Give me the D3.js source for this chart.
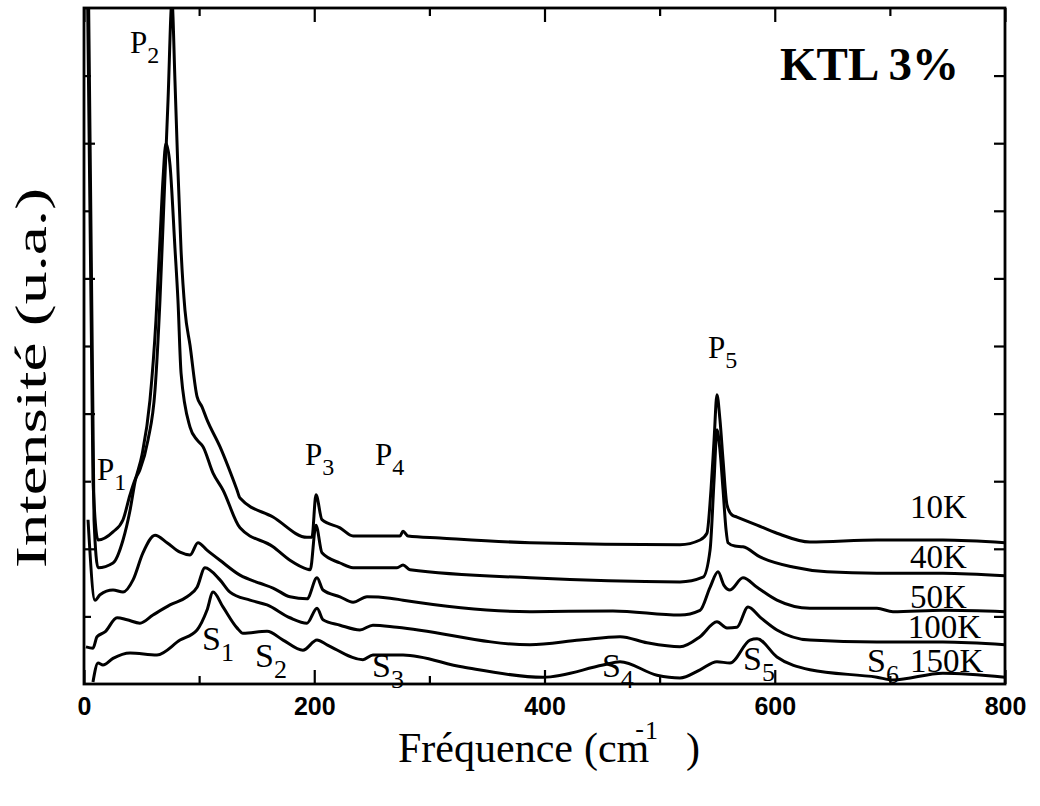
<!DOCTYPE html>
<html>
<head>
<meta charset="utf-8">
<script src="https://cdn.jsdelivr.net/npm/d3@7"></script>
<style>
  html, body { margin: 0; padding: 0; background: #fff; }
  svg { display: block; }
</style>
</head>
<body>
<svg id="chart" width="1040" height="806"></svg>
<script>
// ---------------- data (frequency cm-1, intensity a.u.) ----------------
const temps = ["10K", "40K", "50K", "100K", "150K"];

const spec10K = [[2.6,10.9],[7.8,3.02],[12.2,2.13],[25.2,2.25],[33.9,2.43],[40.0,2.80],[44.3,3.02],[48.6,3.17],[55.6,3.61],[61.7,4.35],[66.0,5.68],[69.5,7.16],[73.0,8.64],[76.4,10.1],[79.0,8.93],[81.6,7.60],[84.3,6.42],[87.7,5.53],[92.1,5.01],[98.2,4.25],[102.5,4.10],[106.8,3.91],[118.1,3.51],[132.9,2.87],[135.5,2.75],[164.2,2.47],[193.7,2.17],[198.0,2.17],[201.5,2.80],[206.7,2.43],[222.4,2.31],[233.7,2.19],[274.5,2.19],[277.1,2.26],[281.4,2.19],[309.2,2.16],[387.4,2.09],[517.7,2.06],[535.1,2.13],[541.1,2.23],[544.6,2.87],[547.3,3.61],[549.8,4.28],[552.4,3.91],[555.1,3.31],[558.5,2.65],[562.9,2.50],[567.2,2.47],[584.6,2.35],[601.9,2.23],[630.6,2.10],[688.8,2.13],[746.1,2.13],[800,2.09]];

const spec40K = [[3.5,10.9],[8.7,2.43],[12.2,1.72],[25.2,1.79],[33.9,2.13],[40.0,2.57],[44.3,2.99],[50.4,3.39],[57.3,4.20],[62.5,5.38],[66.0,6.57],[68.6,7.46],[71.2,8.00],[74.7,7.68],[79.0,6.45],[81.6,5.68],[84.3,4.60],[92.1,3.80],[98.2,3.61],[103.4,3.51],[112.1,3.12],[120.7,2.87],[135.5,2.31],[164.2,2.03],[178.9,1.83],[193.7,1.70],[196.5,1.69],[201.5,2.35],[206.7,1.94],[222.4,1.79],[233.7,1.72],[271.9,1.72],[277.1,1.76],[283.2,1.69],[387.4,1.57],[517.7,1.51],[537.7,1.58],[543.8,1.98],[547.3,3.02],[549.8,3.76],[552.4,3.46],[555.1,2.87],[557.7,2.28],[559.4,2.09],[565.4,2.04],[572.4,2.03],[587.2,1.88],[615.9,1.73],[645.4,1.66],[688.8,1.64],[746.1,1.64],[800,1.60]];

const spec50K = [[3.5,2.43],[9.6,1.24],[13.9,1.32],[25.2,1.39],[33.9,1.36],[42.6,1.54],[51.2,1.94],[61.7,2.20],[72.1,2.09],[83.4,1.95],[92.1,1.91],[99.0,2.09],[106.8,1.98],[118.1,1.83],[135.5,1.61],[152.9,1.49],[164.2,1.42],[178.9,1.29],[193.7,1.26],[202.4,1.57],[207.6,1.39],[222.4,1.29],[233.7,1.21],[245.8,1.29],[265.8,1.27],[277.1,1.24],[387.4,1.07],[459.5,1.08],[517.7,1.02],[535.1,1.09],[543.8,1.43],[550.7,1.66],[555.9,1.46],[561.1,1.39],[572.4,1.57],[584.6,1.43],[601.9,1.24],[630.6,1.12],[688.8,1.12],[702.7,1.07],[746.1,1.09],[800,1.07]];

const spec100K = [[1.7,0.55],[7.8,0.53],[11.3,0.70],[18.2,0.77],[28.7,0.98],[37.4,0.95],[48.6,0.90],[59.9,1.02],[74.7,1.17],[89.5,1.29],[98.2,1.43],[105.1,1.72],[118.1,1.54],[126.8,1.36],[144.2,1.24],[159.0,1.17],[178.9,0.98],[193.7,0.90],[202.4,1.12],[207.6,0.95],[222.4,0.87],[239.7,0.80],[251.0,0.87],[271.9,0.84],[387.4,0.58],[430.8,0.65],[465.6,0.70],[489.0,0.61],[517.7,0.55],[535.1,0.70],[549.8,0.92],[558.5,0.83],[567.2,0.84],[576.8,1.14],[587.2,0.99],[601.9,0.80],[630.6,0.65],[688.8,0.62],[746.1,0.62],[800,0.58]];

const spec150K = [[7.8,0.03],[12.2,0.31],[16.5,0.28],[25.2,0.38],[40.0,0.46],[63.4,0.43],[83.4,0.65],[98.2,0.80],[106.8,1.09],[112.1,1.36],[120.7,1.14],[132.9,0.83],[138.1,0.75],[159.0,0.78],[172.9,0.65],[190.2,0.50],[202.4,0.65],[211.1,0.58],[242.3,0.36],[251.0,0.43],[277.1,0.43],[329.2,0.25],[398.7,0.10],[450.8,0.28],[465.6,0.33],[497.7,0.13],[517.7,0.09],[535.1,0.21],[549.8,0.33],[561.1,0.31],[578.5,0.65],[584.6,0.67],[601.9,0.40],[630.6,0.21],[688.8,0.10],[702.7,0.06],[746.1,0.16],[800,0.10]];

const spectra = [spec10K, spec40K, spec50K, spec100K, spec150K];

// label anchor points (frequency, intensity) for temperatures
const tempLabelFreq = [717.5, 717.5, 717.5, 715.5, 717.5];
const tempLabelInt  = [2.46, 1.72, 1.12, 0.68, 0.18];

// peak annotations
const peakNames = ["P","P","P","P","P","S","S","S","S","S","S"];
const peakSubs  = ["1","2","3","4","5","1","2","3","4","5","6"];
const peakFreq  = [11.3, 40.0, 192.0, 252.8, 542.0, 102.5, 148.5, 250.2, 449.9, 572.4, 680.1];
const peakInt   = [3.02, 9.33, 3.24, 3.24, 4.82, 0.50, 0.25, 0.10, 0.10, 0.21, 0.18];

const xMajor = [0, 200, 400, 600, 800];
const xMinor = [100, 300, 500, 700];
const yMajor = [2, 4, 6, 8];
const yMinor = [1, 3, 5, 7, 9];

// ---------------- drawing ----------------
const svg = d3.select("#chart");
const M = { left: 84, top: 8, right: 1040 - 1005, bottom: 806 - 684 };
const W = 1040 - M.left - M.right;
const H = 806 - M.top - M.bottom;

const x = d3.scaleLinear().domain([0, 800]).range([0, W]);
const y = d3.scaleLinear().domain([0, 10]).range([H, 0]);

const g = svg.append("g").attr("transform", `translate(${M.left},${M.top})`);

g.append("defs").append("clipPath").attr("id", "clip")
  .append("rect").attr("x", 0).attr("y", 0).attr("width", W).attr("height", H);

const serif = "'Liberation Serif','Times New Roman',Times,serif";
const sans = "'Liberation Sans',Arial,Helvetica,sans-serif";

// ticks (inward)
function tickAxis(axisGen, transform) {
  const a = g.append("g").attr("transform", transform).call(axisGen);
  a.select(".domain").remove();
  a.selectAll("line").attr("stroke", "#000").attr("stroke-width", 2.2);
  return a;
}
// bottom
const xb = tickAxis(d3.axisBottom(x).tickValues(xMajor).tickSize(-14).tickFormat(d3.format("d")), `translate(0,${H})`);
xb.selectAll("text").attr("font-family", sans).attr("font-weight", "bold").attr("font-size", 25).attr("fill", "#000").attr("dy", 0).attr("y", 31);
tickAxis(d3.axisBottom(x).tickValues(xMinor).tickSize(-8).tickFormat(""), `translate(0,${H})`);
// top
tickAxis(d3.axisTop(x).tickValues(xMajor).tickSize(-14).tickFormat(""), `translate(0,0)`);
tickAxis(d3.axisTop(x).tickValues(xMinor).tickSize(-8).tickFormat(""), `translate(0,0)`);
// left
tickAxis(d3.axisLeft(y).tickValues(yMajor).tickSize(-11).tickFormat(""), `translate(0,0)`);
tickAxis(d3.axisLeft(y).tickValues(yMinor).tickSize(-7).tickFormat(""), `translate(0,0)`);
// right
tickAxis(d3.axisRight(y).tickValues(yMajor.concat(yMinor)).tickSize(-11).tickFormat(""), `translate(${W},0)`);

// curves
const line = d3.line().x(d => x(d[0])).y(d => y(d[1])).curve(d3.curveMonotoneX);
g.append("g").attr("clip-path", "url(#clip)")
  .selectAll("path").data(spectra).join("path")
  .attr("d", line)
  .attr("fill", "none")
  .attr("stroke", "#000")
  .attr("stroke-width", 3)
  .attr("stroke-linejoin", "round");

// frame
g.append("rect").attr("x", 0).attr("y", 0).attr("width", W).attr("height", H)
  .attr("fill", "none").attr("stroke", "#000").attr("stroke-width", 2.8);

// temperature labels
g.selectAll("text.temp").data(temps).join("text")
  .attr("class", "temp")
  .attr("x", (d, i) => x(tempLabelFreq[i]))
  .attr("y", (d, i) => y(tempLabelInt[i]))
  .attr("font-family", serif).attr("font-size", 33).attr("fill", "#000")
  .text(d => d);

// peak labels
peakNames.forEach((n, i) => {
  const isP = n === "P";
  const t = g.append("text")
    .attr("x", x(peakFreq[i])).attr("y", y(peakInt[i]))
    .attr("font-family", serif).attr("font-size", isP ? 31 : 34).attr("fill", "#000");
  t.append("tspan").text(n);
  t.append("tspan").attr("dy", isP ? 10 : 11).attr("font-size", isP ? 24 : 26).text(peakSubs[i]);
});

// title
g.append("text").attr("x", 780 - M.left).attr("y", 80 - M.top)
  .attr("font-family", serif).attr("font-weight", "bold").attr("font-size", 47).attr("fill", "#000")
  .text("KTL 3%");

// x-axis title
const xt = svg.append("text").attr("x", 398).attr("y", 762)
  .attr("font-family", serif).attr("font-size", 42).attr("fill", "#000");
xt.append("tspan").text("Fréquence");
xt.append("tspan").attr("dx", 11).text("(cm");
xt.append("tspan").attr("dx", -14).attr("dy", -25).attr("font-size", 26).text("-");
xt.append("tspan").attr("dx", 1).attr("dy", 2).attr("font-size", 26).text("1");
xt.append("tspan").attr("dx", 28).attr("dy", 23).attr("font-size", 42).text(")");

// y-axis title
svg.append("text")
  .attr("transform", "translate(46,378) rotate(-90)")
  .attr("text-anchor", "middle")
  .attr("font-family", serif).attr("font-size", 45).attr("fill", "#000")
  .attr("textLength", 380).attr("lengthAdjust", "spacingAndGlyphs")
  .text("Intensité (u.a.)");
</script>
</body>
</html>
